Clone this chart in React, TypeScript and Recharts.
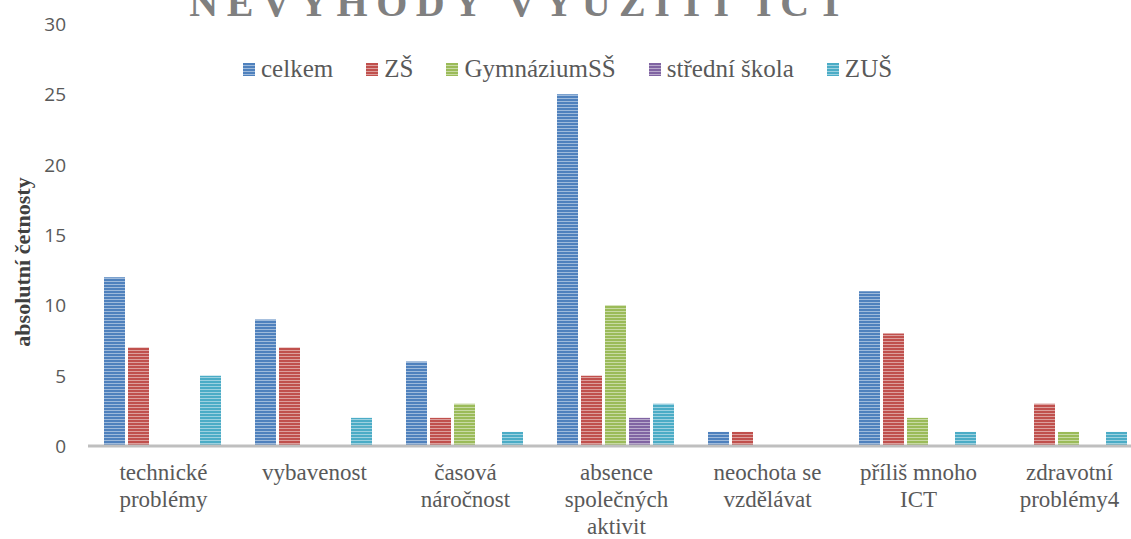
import { BarChart, Bar, XAxis, YAxis } from 'recharts';

const categories = [
    'technické problémy',
    'vybavenost',
    'časová náročnost',
    'absence společných aktivit',
    'neochota se vzdělávat',
    'příliš mnoho ICT',
    'zdravotní problémy4',
];

// how the category labels wrap under the axis
const categoryLines = [
    ['technické', 'problémy'],
    ['vybavenost'],
    ['časová', 'náročnost'],
    ['absence', 'společných', 'aktivit'],
    ['neochota se', 'vzdělávat'],
    ['příliš mnoho', 'ICT'],
    ['zdravotní', 'problémy4'],
];

const celkem = [12, 9, 6, 25, 1, 11, 0];
const zs = [7, 7, 2, 5, 1, 8, 3];
const gymnazium = [0, 0, 3, 10, 0, 2, 1];
const stredniSkola = [0, 0, 0, 2, 0, 0, 0];
const zus = [5, 2, 1, 3, 0, 1, 1];

const yTicks = [0, 5, 10, 15, 20, 25, 30];

const series = [
    { key: 'celkem', name: 'celkem', color: '#4f81bd' },
    { key: 'zs', name: 'ZŠ', color: '#c0504d' },
    { key: 'gym', name: 'GymnáziumSŠ', color: '#9bbb59' },
    { key: 'ss', name: 'střední škola', color: '#8064a2' },
    { key: 'zus', name: 'ZUŠ', color: '#4bacc6' },
];

const data = categories.map((name, i) => ({
    name,
    celkem: celkem[i],
    zs: zs[i],
    gym: gymnazium[i],
    ss: stredniSkola[i],
    zus: zus[i],
}));

const serif = '"Liberation Serif", "Times New Roman", serif';

function CategoryTick({ x, y, payload }: any) {
    const idx = categories.indexOf(payload.value);
    const lines = categoryLines[idx] || [payload.value];
    return (
        <text x={x} y={y + 34} textAnchor="middle" fontFamily={serif} fontSize={23} fill="#595959">
            {lines.map((l, i) => (
                <tspan key={i} x={x} dy={i === 0 ? 0 : 27}>{l}</tspan>
            ))}
        </text>
    );
}

function ValueTick({ x, y, payload }: any) {
    return (
        <text x={x - 22} y={y + 7} textAnchor="end" fontFamily='"Open Sans", sans-serif' fontSize={19} fill="#595959">
            {payload.value}
        </text>
    );
}

function ChartLegend() {
    return (
        <div
            style={{
                position: 'absolute',
                left: 243,
                top: 55,
                display: 'flex',
                alignItems: 'center',
                fontFamily: serif,
                fontSize: 25,
                color: '#595959',
                whiteSpace: 'nowrap',
            }}
        >
            {series.map((s) => (
                <div key={s.key} style={{ display: 'flex', alignItems: 'center', marginRight: 33 }}>
                    <svg width={12} height={13} style={{ marginRight: 6 }}>
                        <rect width={12} height={13} fill={`url(#stripe-${s.key})`} />
                    </svg>
                    <span>{s.name}</span>
                </div>
            ))}
        </div>
    );
}

export default function App() {
    return (
        <div style={{ position: 'fixed', left: 0, top: 0, width: 1131, height: 539, overflow: 'hidden', background: '#fff' }}>
            <svg width={0} height={0} style={{ position: 'absolute' }}>
                <defs>
                    {series.map((s) => (
                        <pattern key={s.key} id={`stripe-${s.key}`} patternUnits="userSpaceOnUse" width={4} height={3}>
                            <rect width={4} height={3} fill={s.color} />
                            <rect y={2} width={4} height={1} fill="#ffffff" fillOpacity={0.45} />
                        </pattern>
                    ))}
                </defs>
            </svg>
            <BarChart
                width={1160}
                height={539}
                data={data}
                margin={{ top: 24, right: 15, bottom: 0, left: 0 }}
                barCategoryGap={16}
                barGap={3}
            >
                <XAxis
                    dataKey="name"
                    height={93}
                    interval={0}
                    tickLine={false}
                    tickSize={0}
                    tickMargin={0}
                    stroke="#bfbfbf"
                    strokeWidth={3}
                    tick={<CategoryTick />}
                />
                <YAxis
                    width={88}
                    domain={[0, 30]}
                    ticks={yTicks}
                    axisLine={false}
                    tickLine={false}
                    tickSize={0}
                    tickMargin={0}
                    tick={<ValueTick />}
                />
                {series.map((s) => (
                    <Bar key={s.key} dataKey={s.key} name={s.name} fill={`url(#stripe-${s.key})`} isAnimationActive={false} />
                ))}
            </BarChart>
            <ChartLegend />
            <svg width={1131} height={539} style={{ position: 'absolute', left: 0, top: 0, pointerEvents: 'none' }}>
                <text x={521} y={16} textAnchor="middle" fontFamily={serif} fontWeight="bold" fontSize={40} letterSpacing={8.5} fill="#808080">
                    NEVÝHODY VYUŽITÍ ICT
                </text>
                <text
                    x={22}
                    y={262}
                    transform="rotate(-90 22 262)"
                    textAnchor="middle"
                    dominantBaseline="central"
                    fontFamily={serif}
                    fontWeight="bold"
                    fontSize={22}
                    fill="#404040"
                >
                    absolutní četnosty
                </text>
            </svg>
        </div>
    );
}
